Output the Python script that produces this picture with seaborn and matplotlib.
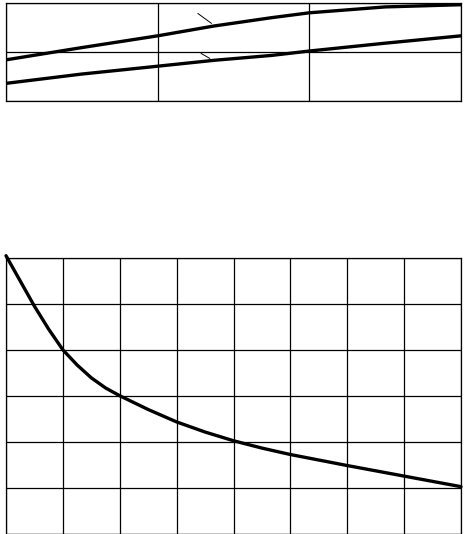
import pandas as pd
import matplotlib
matplotlib.use("Agg")
import matplotlib.pyplot as plt
import seaborn as sns

# Top panel: two rising curves (3 x 2 grid)
top_x = [0, 0.5, 1.0, 1.37, 1.75, 2.0, 2.5, 3.0]
upper_y = [0.84, 1.09, 1.33, 1.53, 1.70, 1.80, 1.92, 1.965]
lower_y = [0.36, 0.55, 0.71, 0.83, 0.93, 1.02, 1.18, 1.33]

# Bottom panel: decaying curve (8 x 6 grid)
bot_x = [0, 0.25, 0.5, 0.75, 1.0, 1.25, 1.5, 1.75, 2.0, 2.5, 3.0, 3.5, 4.0, 4.5, 5.0, 6.0, 7.0, 8.0]
bot_y = [6.05, 5.50, 4.95, 4.45, 4.0, 3.67, 3.39, 3.17, 3.0, 2.70, 2.43, 2.21, 2.02, 1.86, 1.72,
         1.48, 1.25, 1.02]

sns.set_style("white")

fig = plt.figure(figsize=(4.65, 5.34), dpi=100)
ax1 = fig.add_axes([6 / 465, 1 - 101 / 534, 455 / 465, 98 / 534])
ax2 = fig.add_axes([6 / 465, 0.5 / 534, 455 / 465, 275.5 / 534])

top = pd.DataFrame({"x": top_x + top_x,
                    "y": upper_y + lower_y,
                    "curve": ["upper"] * len(top_x) + ["lower"] * len(top_x)})
bot = pd.DataFrame({"x": bot_x, "y": bot_y})

sns.lineplot(data=top, x="x", y="y", units="curve", estimator=None,
             color="black", lw=2.4, ax=ax1, sort=False)
sns.lineplot(data=bot, x="x", y="y", color="black", lw=2.4, ax=ax2,
             sort=False, clip_on=False)

# leader lines on top panel
ax1.annotate("", xy=(1.37, 1.55), xytext=(1.25, 1.82),
             arrowprops=dict(arrowstyle="-", color="black", lw=0.7))
ax1.annotate("", xy=(1.36, 0.84), xytext=(1.27, 1.0),
             arrowprops=dict(arrowstyle="-", color="black", lw=0.7))

for ax, nx, ny in [(ax1, 3, 2), (ax2, 8, 6)]:
    ax.set_xlim(0, nx)
    ax.set_ylim(0, ny)
    ax.set_xticks(range(nx + 1))
    ax.set_yticks(range(ny + 1))
    ax.grid(True, color="black", lw=0.9)
    ax.tick_params(length=0, labelbottom=False, labelleft=False)
    ax.set_xlabel("")
    ax.set_ylabel("")
    for s in ax.spines.values():
        s.set_visible(True)
        s.set_color("black")
        s.set_linewidth(0.9)

plt.savefig("out.png", dpi=100)
